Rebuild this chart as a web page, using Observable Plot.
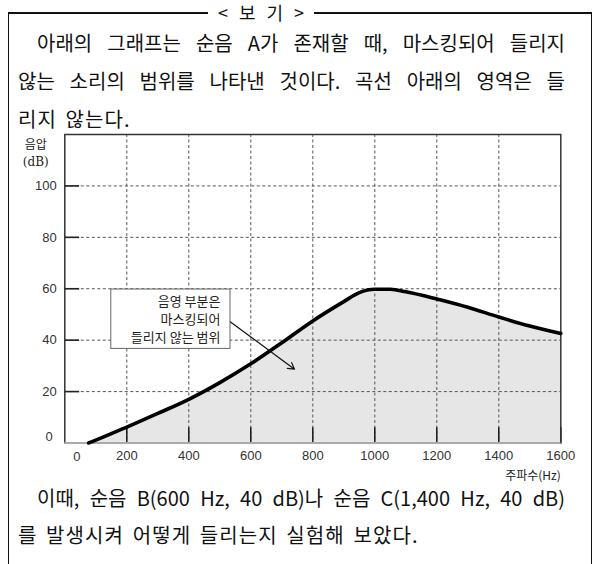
<!DOCTYPE html>
<html>
<head>
<meta charset="utf-8">
<script src="https://cdn.jsdelivr.net/npm/d3@7"></script>
<script src="https://cdn.jsdelivr.net/npm/@observablehq/plot@0.6"></script>
<style>
  html, body { margin: 0; padding: 0; background: #fff; }
  #page { position: relative; width: 600px; height: 564px; overflow: hidden; background: #fff;
          font-family: "Noto Sans CJK KR", "Noto Sans", sans-serif; color: #111; }
  .bl { position: absolute; background: #111; }
  .line { position: absolute; font-size: 20px; line-height: 30px; white-space: nowrap; letter-spacing: 1.1px; word-spacing: 3px; }
  .just { text-align: justify; text-align-last: justify; white-space: normal; letter-spacing: 0; word-spacing: 0; }
  #title { position: absolute; top: 0; left: 206px; width: 110px; text-align: center; font-size: 18px; line-height: 24px; word-spacing: 7px; }
  #chart { position: absolute; left: 0; top: 125px; }
</style>
</head>
<body>
<div id="page">
  <div class="bl" style="left:8px; top:12px; width:200px; height:1.5px;"></div>
  <div class="bl" style="left:314px; top:12px; width:278px; height:1.5px;"></div>
  <div class="bl" style="left:7.5px; top:12px; width:1.5px; height:560px;"></div>
  <div class="bl" style="left:590.5px; top:12px; width:1.5px; height:560px;"></div>
  <div id="title">&lt; 보 기 &gt;</div>
  <div class="line just" style="left:37px; width:528px; top:28px;">아래의 그래프는 순음 A가 존재할 때, 마스킹되어 들리지</div>
  <div class="line just" style="left:18px; width:547px; top:66px;">않는 소리의 범위를 나타낸 것이다. 곡선 아래의 영역은 들</div>
  <div class="line" style="left:18px; top:104px;">리지 않는다.</div>
  <div id="chart"></div>
  <div class="line just" style="left:37px; width:528px; top:483px;">이때, 순음 B(600 Hz, 40 dB)나 순음 C(1,400 Hz, 40 dB)</div>
  <div class="line" style="left:18px; top:520px;">를 발생시켜 어떻게 들리는지 실험해 보았다.</div>
</div>
<script>
// Masking threshold curve (frequency in Hz, sound pressure in dB)
const freq = [77, 100, 200, 300, 400, 500, 600, 700, 800, 900, 950, 1000, 1050, 1100, 1200, 1300, 1400, 1500, 1600];
const level = [0, 1.1, 6.2, 11.5, 17, 23.5, 30.8, 39, 47.5, 55, 58.5, 59.8, 59.8, 58.8, 56, 52.8, 49, 45.5, 42.6];
const xTicks = [200, 400, 600, 800, 1000, 1200, 1400, 1600];
const yTicks = [20, 40, 60, 80, 100];
const noteLines = ["음영 부분은", "마스킹되어", "들리지 않는 범위"];
const yLabelTop = "음압";
const yLabelUnit = "(dB)";
const xLabel = "주파수(Hz)";

const data = freq.map((f, i) => ({f, db: level[i]}));
const sans = "'Liberation Sans', Arial, sans-serif";
const kr = "'Noto Sans CJK KR', sans-serif";

const plot = Plot.plot({
  width: 600,
  height: 370,
  marginTop: 9,
  marginBottom: 52.5,
  marginLeft: 64.3,
  marginRight: 39.7,
  style: {background: "transparent", fontFamily: sans, fontSize: "13px", color: "#333"},
  x: {domain: [0, 1600], label: null},
  y: {domain: [0, 120], label: null},
  marks: [
    Plot.areaY(data, {x: "f", y: "db", fill: "#e6e6e6", curve: "monotone-x"}),
    Plot.gridX(xTicks.slice(0, -1), {stroke: "#555", strokeOpacity: 1, strokeDasharray: "3,2.5", strokeWidth: 1}),
    Plot.gridY(yTicks, {stroke: "#555", strokeOpacity: 1, strokeDasharray: "3,2.5", strokeWidth: 1}),
    Plot.ruleX(xTicks, {x: d => d, y1: 0, y2: 5.9, stroke: "#222", strokeWidth: 1.6}),
    Plot.ruleY(yTicks, {y: d => d, x1: 0, x2: 48, stroke: "#222", strokeWidth: 1.6}),
    Plot.frame({stroke: "#333", strokeWidth: 1.5}),
    Plot.ruleY([0], {stroke: "#aaa", strokeWidth: 2}),
    Plot.axisX(xTicks, {tickSize: 0, tickPadding: 8, fill: "#333", fontSize: 13, label: null, tickFormat: d => String(d)}),
    Plot.text(["0"], {x: 0, y: 0, dx: 12, dy: 14, fill: "#333", fontSize: 13}),
    Plot.axisY(yTicks, {tickSize: 0, tickPadding: 8, fill: "#333", fontSize: 13, label: null, tickFormat: d => String(d)}),
    Plot.text(["0"], {x: 0, y: 0, dx: -12, dy: -6, textAnchor: "end", fill: "#333", fontSize: 13}),
    Plot.line(data, {x: "f", y: "db", stroke: "#000", strokeWidth: 3.6, curve: "monotone-x"}),
    Plot.rect([{}], {x1: 150, x2: 534.5, y1: 36.6, y2: 59.7, fill: "white", stroke: "#666", strokeWidth: 1}),
    Plot.text(noteLines, {x: 502, y: (d, i) => 55.1 - i * 7.0, textAnchor: "end", fontFamily: kr, fontSize: 13, fill: "#222"}),
    Plot.arrow([{}], {x1: 534.5, y1: 47.1, x2: 741, y2: 28.7, stroke: "#111", strokeWidth: 1.2, headLength: 9}),
    Plot.text([yLabelTop], {frameAnchor: "top-left", dx: -29, dy: 6, textAnchor: "middle", fontFamily: kr, fontSize: 12, fill: "#222"}),
    Plot.text([yLabelUnit], {frameAnchor: "top-left", dx: -29, dy: 23, textAnchor: "middle", fontFamily: "'DejaVu Serif', serif", fontSize: 12, fill: "#222"}),
    Plot.text([xLabel], {frameAnchor: "bottom-right", dy: 37, textAnchor: "end", fontFamily: kr, fontSize: 12, fill: "#222"})
  ]
});
document.getElementById("chart").appendChild(plot);
</script>
</body>
</html>
